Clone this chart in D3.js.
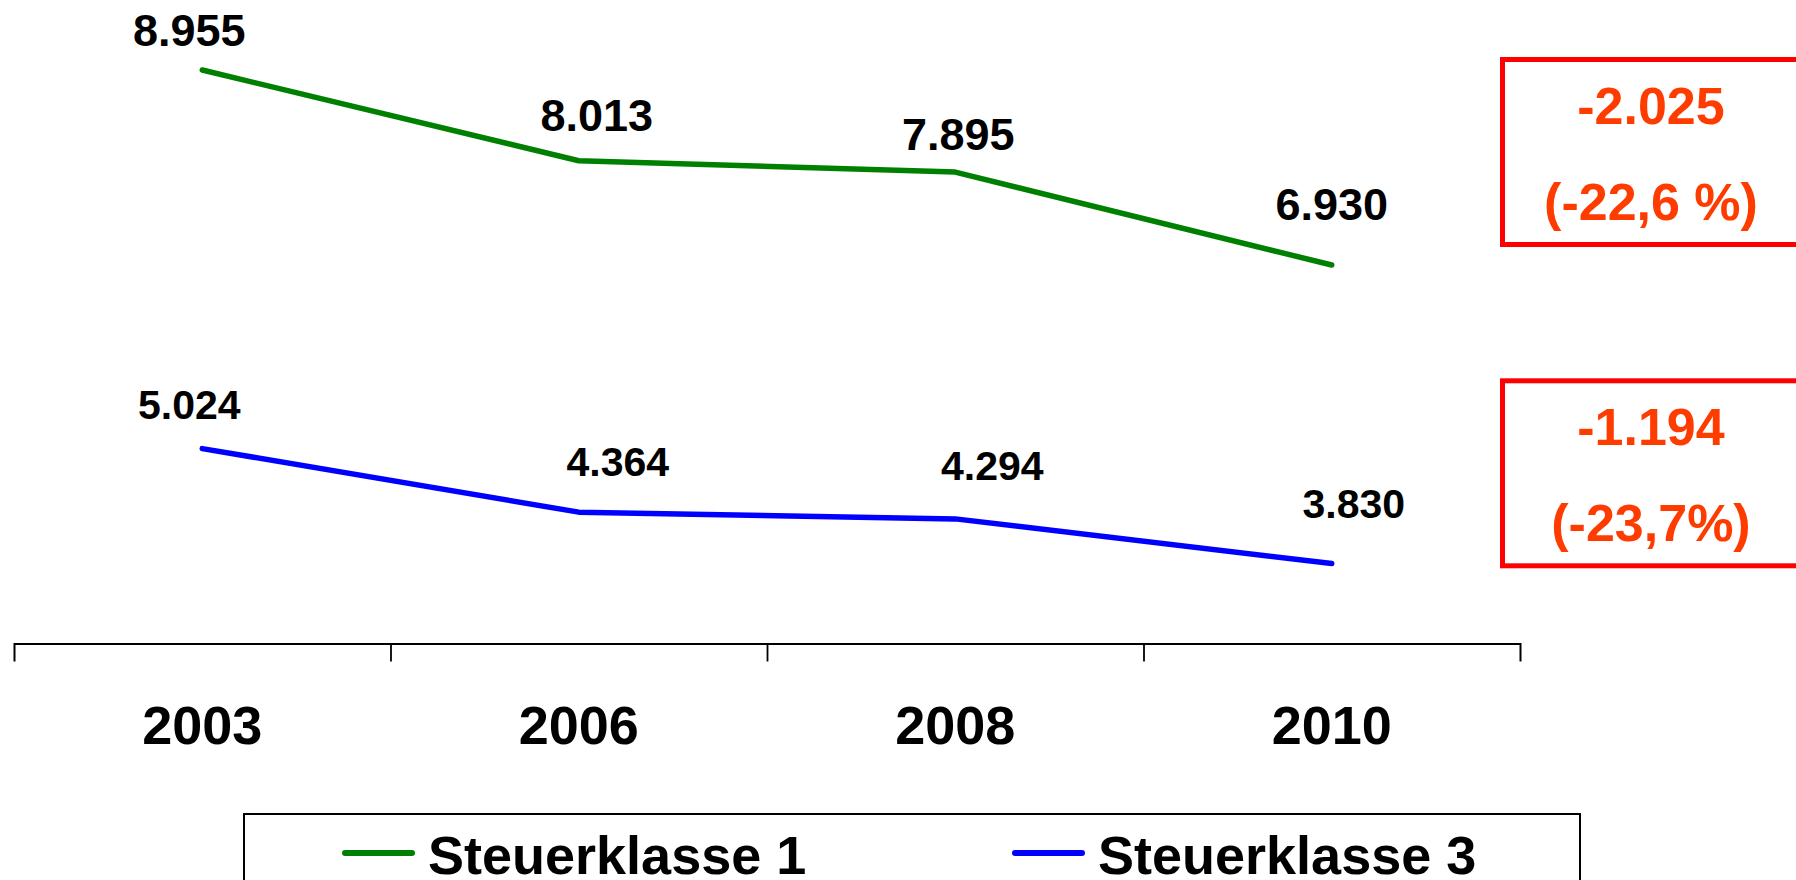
<!DOCTYPE html>
<html>
<head>
<meta charset="utf-8">
<script src="https://cdn.jsdelivr.net/npm/d3@7"></script>
<style>
  body { margin: 0; background: #fff; }
  svg { display: block; font-family: "Liberation Sans", Arial, sans-serif; font-weight: bold; }
</style>
</head>
<body>
<svg width="1796" height="880"></svg>
<script>
const years = ["2003", "2006", "2008", "2010"];
const seriesNames = ["Steuerklasse 1", "Steuerklasse 3"];
const klasse1 = [8955, 8013, 7895, 6930];
const klasse3 = [5024, 4364, 4294, 3830];
const changeAbs = ["-2.025", "-1.194"];
const changePct = ["(-22,6 %)", "(-23,7%)"];

const colors = ["#008000", "#0000ff"];

// hand placement of the value labels, as in the original slide
const nudge = [
  [[-13, -24], [18, -30], [3, -22], [0, -45]],
  [[-13, -30], [39, -36], [37, -39], [22, -46]]
];

const fmt = (v) => d3.format(",")(v).replace(/,/g, ".");

window.onload = () => {
  const svg = d3.select("svg");

  const x = d3.scaleBand()
    .domain(years)
    .range([14, 1520]);

  const y = d3.scaleLinear()
    .domain([3000, 9000])
    .range([643.5, 65.7]);

  const series = [klasse1, klasse3].map((vals, s) => ({
    name: seriesNames[s],
    color: colors[s],
    fontSize: s === 0 ? 45 : 41,
    points: vals.map((v, i) => ({ year: years[i], value: v, i }))
  }));

  // x axis
  const axis = svg.append("g")
    .attr("transform", `translate(0, ${y.range()[0]})`)
    .call(d3.axisBottom(x).tickSize(0).tickSizeOuter(18).tickPadding(62));

  axis.select(".domain").attr("stroke", "#000").attr("stroke-width", 2);
  axis.selectAll("text")
    .attr("fill", "#000")
    .attr("font-size", 54)
    .attr("font-family", "Liberation Sans, Arial, sans-serif")
    .attr("font-weight", "bold");

  axis.selectAll(".sep")
    .data(years.slice(1))
    .enter().append("line")
      .attr("class", "sep")
      .attr("x1", d => x(d) + 0.5)
      .attr("x2", d => x(d) + 0.5)
      .attr("y1", 0)
      .attr("y2", 18)
      .attr("stroke", "#000")
      .attr("stroke-width", 1.8);

  const line = d3.line()
    .x(d => x(d.year) + x.bandwidth() / 2)
    .y(d => y(d.value));

  const g = svg.selectAll(".series")
    .data(series)
    .enter().append("g")
      .attr("class", "series");

  g.append("path")
    .attr("d", d => line(d.points))
    .attr("fill", "none")
    .attr("stroke", d => d.color)
    .attr("stroke-width", 5.5)
    .attr("stroke-linecap", "round")
    .attr("stroke-linejoin", "round");

  g.each(function (d, s) {
    d3.select(this).selectAll("text")
      .data(d.points)
      .enter().append("text")
        .attr("x", p => x(p.year) + x.bandwidth() / 2 + nudge[s][p.i][0])
        .attr("y", p => y(p.value) + nudge[s][p.i][1])
        .attr("text-anchor", "middle")
        .attr("font-size", d.fontSize)
        .attr("fill", "#000")
        .text(p => fmt(p.value));
  });

  // change boxes
  const boxTops = [59.5, 380.8];
  const box = svg.selectAll(".box")
    .data(changeAbs)
    .enter().append("g")
      .attr("class", "box")
      .attr("transform", (d, i) => `translate(1502.5, ${boxTops[i]})`);

  box.append("rect")
    .attr("width", 330)
    .attr("height", 185)
    .attr("fill", "none")
    .attr("stroke", "#ff0000")
    .attr("stroke-width", 5);

  box.append("text")
    .attr("x", 148.5)
    .attr("y", 64.5)
    .attr("text-anchor", "middle")
    .attr("font-size", 52)
    .attr("fill", "#ff3c00")
    .text(d => d);

  box.append("text")
    .attr("x", 148.5)
    .attr("y", 160.5)
    .attr("text-anchor", "middle")
    .attr("font-size", 52)
    .attr("fill", "#ff3c00")
    .text((d, i) => changePct[i]);

  // legend
  const legend = svg.append("g");
  legend.append("rect")
    .attr("x", 244)
    .attr("y", 814)
    .attr("width", 1336)
    .attr("height", 120)
    .attr("fill", "none")
    .attr("stroke", "#000")
    .attr("stroke-width", 2);

  const legendX = [345, 1015];
  const item = legend.selectAll(".item")
    .data(series)
    .enter().append("g")
      .attr("class", "item")
      .attr("transform", (d, i) => `translate(${legendX[i]}, 853)`);

  item.append("line")
    .attr("x1", 0)
    .attr("x2", 67)
    .attr("stroke", d => d.color)
    .attr("stroke-width", 6)
    .attr("stroke-linecap", "round");

  item.append("text")
    .attr("x", 83)
    .attr("y", 21)
    .attr("font-size", 54)
    .attr("fill", "#000")
    .text(d => d.name);
};
</script>
</body>
</html>
